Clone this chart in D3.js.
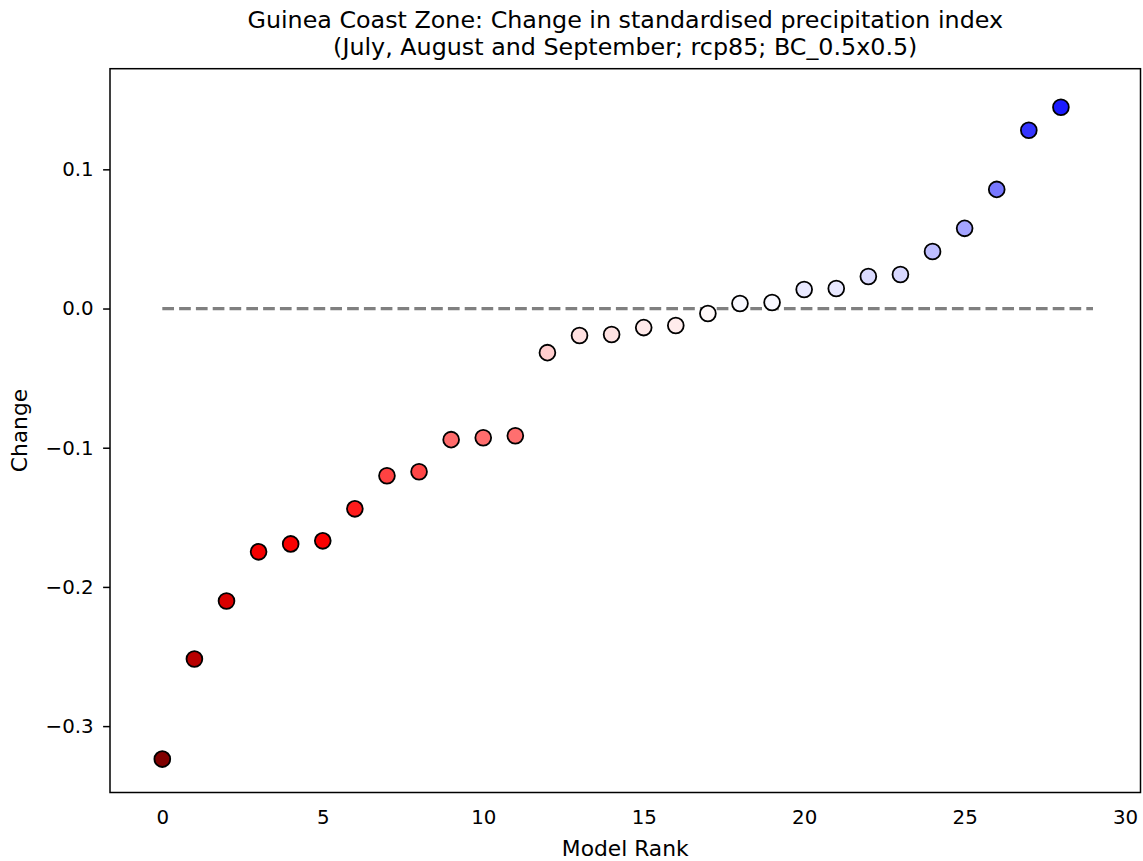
<!DOCTYPE html>
<html>
<head>
<meta charset="utf-8">
<script src="https://cdn.jsdelivr.net/npm/d3@7"></script>
<style>
  html, body { margin: 0; padding: 0; background: #ffffff; }
  svg { display: block; font-family: "DejaVu Sans", sans-serif; }
</style>
</head>
<body>
<svg id="chart" width="1143" height="861"></svg>
<script>
// ---- data ----
const titleLines = [
  "Guinea Coast Zone: Change in standardised precipitation index",
  "(July, August and September; rcp85; BC_0.5x0.5)"
];
const xLabel = "Model Rank";
const yLabel = "Change";
const modelRank = d3.range(29);
const changeValues = [
  -0.3237, -0.2518, -0.2101, -0.1748, -0.1691, -0.1669, -0.1439, -0.1201,
  -0.1173, -0.0942, -0.0928, -0.0914, -0.0317, -0.0194, -0.0187, -0.0137,
  -0.0122, -0.0036, 0.0036, 0.0043, 0.0137, 0.0144, 0.0230, 0.0245,
  0.0410, 0.0576, 0.0856, 0.1281, 0.1446
];
const xTicks = [0, 5, 10, 15, 20, 25, 30];
const yTicks = [-0.3, -0.2, -0.1, 0.0, 0.1];
const zeroLine = [0, 29];
const colormap = ["#800000", "#ff0000", "#ffffff", "#0000ff", "#00004d"]; // seismic_r

// ---- layout ----
const svg = d3.select("#chart");
const plot = { left: 110, right: 1140.5, top: 68.7, bottom: 792.5 };
const tickFont = 19.8;
const labelFont = 21.8;

const x = d3.scaleLinear().domain([-1.63, 30.48]).range([plot.left, plot.right]);
const y = d3.scaleLinear().domain([-0.3477, 0.1723]).range([plot.bottom, plot.top]);

const m = d3.max(changeValues, v => Math.abs(v));
const color = d3.scaleLinear()
  .domain([-m, -m / 2, 0, m / 2, m])
  .range(colormap)
  .interpolate(d3.interpolateRgb)
  .clamp(true);

// zero line (dashed)
svg.append("line")
  .attr("x1", x(zeroLine[0])).attr("x2", x(zeroLine[1]))
  .attr("y1", y(0)).attr("y2", y(0))
  .attr("stroke", "#808080")
  .attr("stroke-width", 3.2)
  .attr("stroke-dasharray", "11.7 5.1");

// points
svg.append("g").selectAll("circle")
  .data(modelRank.map((r, i) => ({ r, v: changeValues[i] })))
  .join("circle")
  .attr("cx", d => x(d.r))
  .attr("cy", d => y(d.v))
  .attr("r", 7.9)
  .attr("fill", d => color(d.v))
  .attr("stroke", "#000000")
  .attr("stroke-width", 1.8);

// frame
svg.append("rect")
  .attr("x", plot.left).attr("y", plot.top)
  .attr("width", plot.right - plot.left)
  .attr("height", plot.bottom - plot.top)
  .attr("fill", "none")
  .attr("stroke", "#000000")
  .attr("stroke-width", 1.5);

// y axis
const yAxis = d3.axisLeft(y)
  .tickValues(yTicks)
  .tickSize(6.9)
  .tickPadding(9.5)
  .tickFormat(d => d3.format(".1f")(d).replace("-", "\u2212"));
const gy = svg.append("g")
  .attr("transform", `translate(${plot.left},0)`)
  .call(yAxis);
gy.select(".domain").remove();
gy.selectAll(".tick line").attr("stroke", "#000").attr("stroke-width", 1.5);
gy.selectAll(".tick text")
  .attr("font-family", "DejaVu Sans, sans-serif")
  .attr("font-size", tickFont)
  .attr("fill", "#000");

// x axis (no tick marks)
const xAxis = d3.axisBottom(x)
  .tickValues(xTicks)
  .tickSize(0)
  .tickPadding(17)
  .tickFormat(d3.format("d"));
const gx = svg.append("g")
  .attr("transform", `translate(0,${plot.bottom})`)
  .call(xAxis);
gx.select(".domain").remove();
gx.selectAll(".tick text")
  .attr("font-family", "DejaVu Sans, sans-serif")
  .attr("font-size", tickFont)
  .attr("fill", "#000");

// axis labels
svg.append("text")
  .attr("x", (plot.left + plot.right) / 2)
  .attr("y", 856)
  .attr("text-anchor", "middle")
  .attr("font-size", labelFont)
  .attr("fill", "#000")
  .text(xLabel);

svg.append("text")
  .attr("transform", `translate(27,${(plot.top + plot.bottom) / 2}) rotate(-90)`)
  .attr("text-anchor", "middle")
  .attr("font-size", labelFont)
  .attr("fill", "#000")
  .text(yLabel);

// title
svg.append("g").selectAll("text")
  .data(titleLines)
  .join("text")
  .attr("x", (plot.left + plot.right) / 2)
  .attr("y", (d, i) => 28 + i * 27)
  .attr("text-anchor", "middle")
  .attr("font-size", 23.8)
  .attr("fill", "#000")
  .text(d => d);
</script>
</body>
</html>
